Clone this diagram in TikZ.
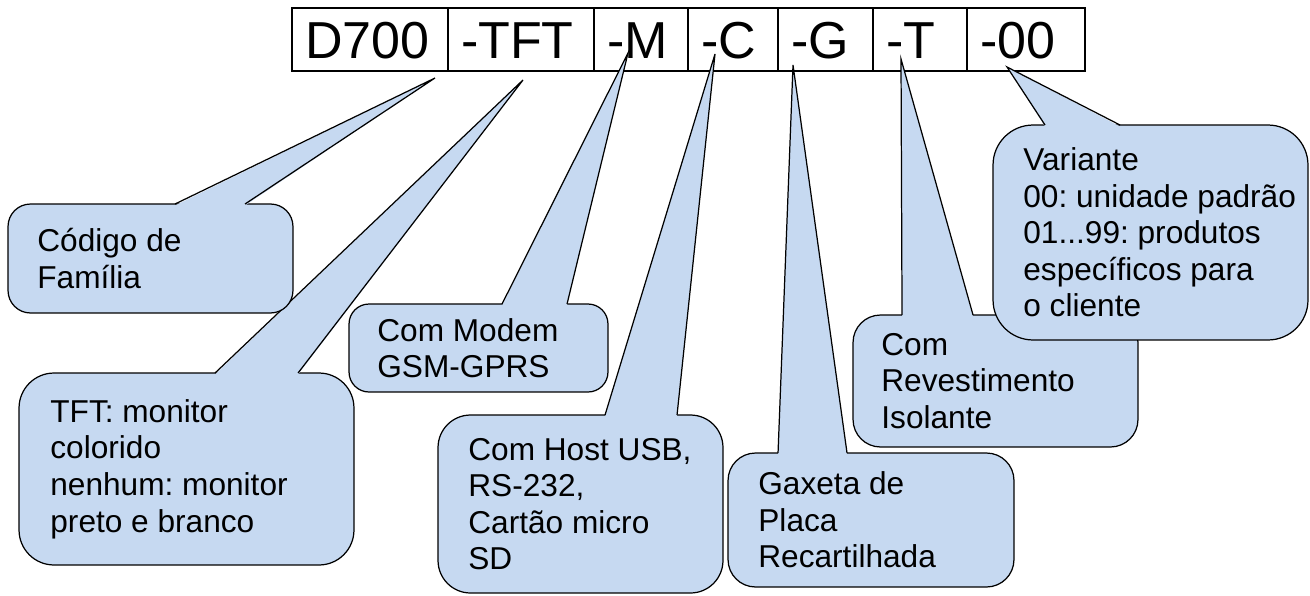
\documentclass[tikz,border=0pt]{standalone}
\usepackage{fontspec}
\setmainfont{Liberation Sans}
\usetikzlibrary{calc}
\frenchspacing

\definecolor{calloutblue}{RGB}{198,217,241}

\tikzset{
  cell/.style={draw, line width=1.1pt, outer sep=0pt, anchor=west,
    font=\fontsize{29.6}{32}\selectfont, align=left,
    minimum height=1.26cm, text height=0.745cm, text depth=0pt, inner xsep=0.26cm},
  bubble/.style={draw, line width=0.7pt, fill=calloutblue, inner sep=0pt, outer sep=0pt},
  note/.style={font=\fontsize{18}{20.8}\selectfont, align=left, anchor=west, inner sep=0pt}
}

% wedge of a callout: node, left and right offset of the base, tip
\newcommand{\calloutwedge}[4]{%
  \fill[calloutblue] ($(#1.north west)+(#2,1.5)$) -- (#4) -- ($(#1.north west)+(#3,1.5)$) -- cycle;
  \draw[line width=0.7pt] ($(#1.north west)+(#2,0)$) -- (#4) -- ($(#1.north west)+(#3,0)$);
}

\begin{document}
\begin{tikzpicture}
  [x=0.02cm, y=-0.02cm]
  \useasboundingbox (0,0) rectangle (1310,595);

  % code fields
  \node[cell, text width=2.60cm] (cD) at (292,39.5) {D700};
  \node[cell, text width=2.40cm] (cTFT) at (448,39.5) {-TFT};
  \node[cell, text width=1.36cm] (cM) at (594,39.5) {-M};
  \node[cell, text width=1.28cm] (cC) at (688,39.5) {-C};
  \node[cell, text width=1.38cm] (cG) at (778,39.5) {-G};
  \node[cell, text width=1.36cm] (cT) at (873,39.5) {-T};
  \node[cell, text width=1.84cm] (c00) at (967,39.5) {-00};

  \coordinate (tD) at (435,78);
  \coordinate (tTFT) at (523,80);
  \coordinate (tM) at (628,53);
  \coordinate (tC) at (715,54);
  \coordinate (tG) at (793,65);
  \coordinate (tT) at (901,59);
  \coordinate (t00) at (1007,67);

  % callouts
  \node[bubble, minimum width=6.70cm, minimum height=3.84cm, rounded corners=0.70cm] (tft) at (186.5,469) {};
  \calloutwedge{tft}{196}{279}{tTFT}
  \node[note] (tfttext) at ($(tft.west)+(31,0)$) {TFT: monitor\\colorido\\nenhum: monitor\\preto e branco};

  \node[bubble, minimum width=5.70cm, minimum height=2.18cm, rounded corners=0.45cm] (fam) at (150.5,258.5) {};
  \calloutwedge{fam}{167}{237}{tD}
  \node[note] (famtext) at ($(fam.west)+(29,0)$) {Código de\\Família};

  \node[bubble, minimum width=5.70cm, minimum height=3.56cm, rounded corners=0.65cm] (host) at (580.5,504) {};
  \calloutwedge{host}{167}{239}{tC}
  \node[note] (hosttext) at ($(host.west)+(30,0)$) {Com Host USB,\\RS-232,\\Cartão micro\\SD};

  \node[bubble, minimum width=5.18cm, minimum height=1.76cm, rounded corners=0.40cm] (modem) at (478.5,348) {};
  \calloutwedge{modem}{153}{218}{tM}
  \node[note] (modemtext) at ($(modem.west)+(28,0)$) {Com Modem\\GSM-GPRS};

  \node[bubble, minimum width=5.72cm, minimum height=2.68cm, rounded corners=0.55cm] (gasket) at (871,520) {};
  \calloutwedge{gasket}{50}{119}{tG}
  \node[note] (gaskettext) at ($(gasket.west)+(30,0)$) {Gaxeta de\\Placa\\Recartilhada};

  \node[bubble, minimum width=5.70cm, minimum height=2.64cm, rounded corners=0.55cm] (coat) at (995.5,381) {};
  \calloutwedge{coat}{49}{120}{tT}
  \node[note] (coattext) at ($(coat.west)+(28,0)$) {Com\\Revestimento\\Isolante};

  \node[bubble, minimum width=6.30cm, minimum height=4.30cm, rounded corners=0.80cm] (variant) at (1150.5,232.5) {};
  \calloutwedge{variant}{52}{127}{t00}
  \node[note] (varianttext) at ($(variant.west)+(30,0)$) {Variante\\00: unidade padrão\\01...99: produtos\\específicos para\\o cliente};

\end{tikzpicture}
\end{document}
